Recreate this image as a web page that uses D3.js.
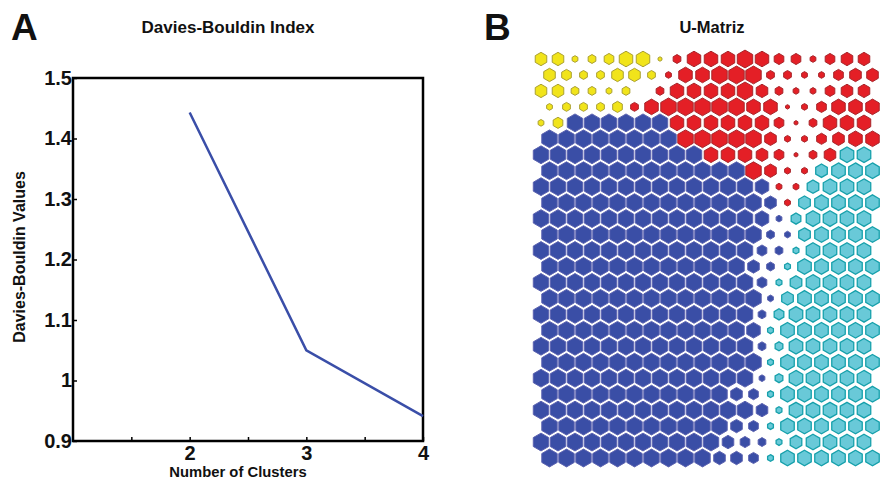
<!DOCTYPE html>
<html lang="en">
<head>
<meta charset="utf-8">
<title>Davies-Bouldin Index / U-Matriz</title>
<script src="https://cdn.jsdelivr.net/npm/d3@7"></script>
<style>
  body { margin: 0; background: #fff; }
  svg text { font-family: "Liberation Sans", Arial, Helvetica, sans-serif; fill: #111; }
  .panel { font-size: 37px; font-weight: bold; }
  .title { font-size: 17px; font-weight: bold; text-anchor: middle; }
  .axis text { font-size: 20px; font-weight: bold; }
  .axis path { display: none; }
  .axis line { stroke: #000; stroke-width: 1.5; }
  .label { font-weight: bold; text-anchor: middle; }
</style>
</head>
<body>
<svg width="880" height="479"></svg>
<script>
// panel A: Davies-Bouldin index for each number of clusters
var clusterCounts = [2, 3, 4];
var dbValues = [1.443, 1.050, 0.941];
var xTicks = [1.5, 2, 2.5, 3, 3.5, 4];
var yTicks = [0.9, 1.0, 1.1, 1.2, 1.3, 1.4, 1.5];

// panel B: U-matrix map, one string per row of 20 units
// Y yellow, R red, B blue, C cyan
var mapClusters = [
  "YYYYYYYYRRRRRRRRRRRR",
  "YYYYYYYRRRRRRRRRRRRR",
  "YYYYYYYRRRRRRRRRRRRR",
  "YYYYYRRRRRRRRRRRRRRR",
  "YYBBBBBBRRRRRRRRRRRR",
  "BBBBBBBBRRRRRRRRRRRR",
  "BBBBBBBBBBRRRRRRRRCC",
  "BBBBBBBBBBBBRRRRCCCC",
  "BBBBBBBBBBBBBBRRCCCC",
  "BBBBBBBBBBBBBBRCCCCC",
  "BBBBBBBBBBBBBBBCCCCC",
  "BBBBBBBBBBBBBBBCCCCC",
  "BBBBBBBBBBBBBBBCCCCC",
  "BBBBBBBBBBBBBBCCCCCC",
  "BBBBBBBBBBBBBBCCCCCC",
  "BBBBBBBBBBBBBBCCCCCC",
  "BBBBBBBBBBBBBBCCCCCC",
  "BBBBBBBBBBBBBCCCCCCC",
  "BBBBBBBBBBBBBBCCCCCC",
  "BBBBBBBBBBBBBCCCCCCC",
  "BBBBBBBBBBBBBBCCCCCC",
  "BBBBBBBBBBBBBCCCCCCC",
  "BBBBBBBBBBBBBBCCCCCC",
  "BBBBBBBBBBBBBCCCCCCC",
  "BBBBBBBBBBBBBBCCCCCC",
  "BBBBBBBBBBBBBCCCCCCC"
];
// relative unit size, 0 (empty) .. 8 (full hexagon)
var mapSizes = [
  "66345772477787553566",
  "65446643778884433566",
  "66443404777786433566",
  "34445478888877235777",
  "35888888777777524777",
  "88888888888886335677",
  "88888888887776524677",
  "88888888888886336777",
  "88888888888887336777",
  "88888888888886367777",
  "88888888888887357777",
  "88888888888884367777",
  "88888888888885437777",
  "88888888888864377777",
  "88888888888885367777",
  "88888888888883677777",
  "88888888888884577777",
  "88888888888873777777",
  "88888888888884477777",
  "88888888888883777777",
  "88888888888883477777",
  "88888888888653777777",
  "88888888888886377777",
  "88888888888653777777",
  "88888888888654367777",
  "88888888886653777777"
];

var svg = d3.select("svg");

// ---------- panel A ----------
var x = d3.scaleLinear().domain([1, 4]).range([73, 423]);
var y = d3.scaleLinear().domain([0.9, 1.5]).range([441, 78]);

svg.append("text").attr("class", "panel").attr("x", 11).attr("y", 40).text("A");
svg.append("text").attr("class", "title").attr("x", 228).attr("y", 33).text("Davies-Bouldin Index");

svg.append("g")
  .attr("class", "axis")
  .attr("transform", "translate(" + x.range()[0] + ",0)")
  .call(d3.axisLeft(y).tickValues(yTicks).tickSizeInner(-4).tickSizeOuter(0).tickPadding(1)
    .tickFormat(function(d) { return d3.format("")(+d.toFixed(1)); }));

svg.append("g")
  .attr("class", "axis")
  .attr("transform", "translate(0," + y.range()[0] + ")")
  .call(d3.axisBottom(x).tickValues(xTicks).tickSizeInner(-4).tickSizeOuter(0).tickPadding(5)
    .tickFormat(function(d) { return d % 1 === 0 ? d : ""; }));

svg.append("rect")
  .attr("x", x.range()[0]).attr("y", y.range()[1])
  .attr("width", x.range()[1] - x.range()[0])
  .attr("height", y.range()[0] - y.range()[1])
  .attr("fill", "none").attr("stroke", "#000").attr("stroke-width", 2.5);

var dbLine = d3.line()
  .x(function(d, i) { return x(clusterCounts[i]); })
  .y(function(d) { return y(d); });

svg.append("path")
  .datum(dbValues)
  .attr("d", dbLine)
  .attr("fill", "none")
  .attr("stroke", "#3a4ea8")
  .attr("stroke-width", 2.5);

svg.append("text").attr("class", "label").style("font-size", "14.8px")
  .attr("x", 238).attr("y", 477).text("Number of Clusters");
svg.append("text").attr("class", "label").style("font-size", "16px")
  .attr("transform", "translate(25,257) rotate(-90)").text("Davies-Bouldin Values");

// ---------- panel B ----------
svg.append("text").attr("class", "panel").attr("x", 484).attr("y", 40).text("B");
svg.append("text").attr("class", "title").style("font-size", "16.5px")
  .attr("x", 712).attr("y", 33).text("U-Matriz");

var nCols = mapClusters[0].length, nRows = mapClusters.length;
var col = d3.scaleLinear().domain([0, nCols - 1]).range([541, 864]);
var row = d3.scaleLinear().domain([0, nRows - 1]).range([59, 458]);
var radius = d3.scaleLinear().domain([0, 8]).range([0, 8.9]);
var fill = d3.scaleOrdinal().domain(["Y", "R", "B", "C"])
  .range(["#f1e41a", "#e41f26", "#3a4ea6", "#69c9d8"]);
var edge = d3.scaleOrdinal().domain(["Y", "R", "B", "C"])
  .range(["#aaa032", "#a8262b", "#5b62b0", "#16a0ab"]);

var units = [];
mapClusters.forEach(function(line, r) {
  for (var c = 0; c < nCols; c++) {
    units.push({ r: r, c: c, k: line[c], s: +mapSizes[r][c] });
  }
});

function hexPath(rad) {
  return d3.range(6).map(function(i) {
    var a = Math.PI / 3 * i - Math.PI / 2;
    return (i ? "L" : "M") + (rad * Math.cos(a)).toFixed(2) + "," + (rad * Math.sin(a)).toFixed(2);
  }).join("") + "Z";
}

var halfStep = (col(1) - col(0)) / 2;
svg.append("g").selectAll("path")
  .data(units.filter(function(d) { return d.s > 0; }))
  .enter()
  .append("path")
  .attr("transform", function(d) {
    return "translate(" + (col(d.c) + (d.r % 2 ? halfStep : 0)) + "," + row(d.r) + ")";
  })
  .attr("d", function(d) { return hexPath(radius(d.s)); })
  .attr("fill", function(d) { return fill(d.k); })
  .attr("stroke", function(d) { return edge(d.k); })
  .attr("stroke-width", function(d) { return d.k === "C" ? 1.3 : 1; });
</script>
</body>
</html>
